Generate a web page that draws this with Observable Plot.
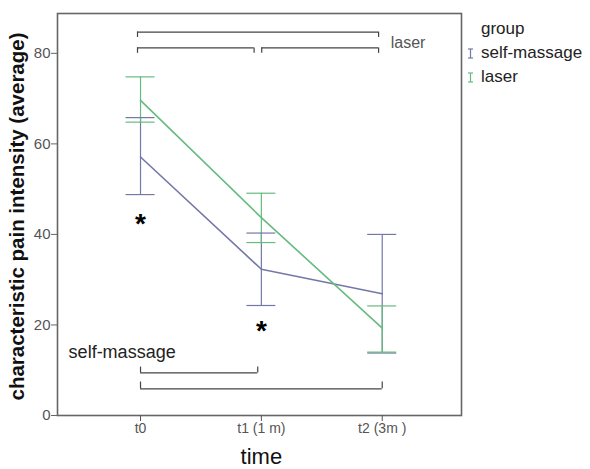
<!DOCTYPE html>
<html>
<head>
<meta charset="utf-8">
<script src="https://cdn.jsdelivr.net/npm/d3@7"></script>
<script src="https://cdn.jsdelivr.net/npm/@observablehq/plot@0.6"></script>
<style>
  html, body { margin: 0; padding: 0; background: #fff; }
  #wrap { position: relative; width: 590px; height: 469px; font-family: "Liberation Sans", Arial, sans-serif; }
  #legend { position: absolute; left: 465px; top: 17px; font-size: 17px; color: #222; line-height: 24px; }
  #legend .row { display: flex; align-items: center; white-space: nowrap; }
  #legend .sym { width: 11px; height: 11px; margin-right: 5px; }
</style>
</head>
<body>
<div id="wrap"></div>
<script>
// ---- data ----
const times = ["t0", "t1 (1 m)", "t2 (3m )"];
const groups = ["self-massage", "laser"];
const colors = ["#7478a6", "#66bb7f"];

const selfMean = [57.1, 32.3, 26.9];
const selfLow  = [48.8, 24.3, 13.8];
const selfHigh = [65.8, 40.3, 40.0];

const laserMean = [69.6, 43.7, 19.3];
const laserLow  = [64.8, 38.2, 14.0];
const laserHigh = [74.8, 49.1, 24.2];

const yTicks = [0, 20, 40, 60, 80];

// significance brackets: [from index, to index, level, leg end level]
const laserBrackets = [
  [-0.025, 1.97, 84.7, 83.5],
  [-0.025, 0.94, 81.2, 80.0],
  [1.003, 1.97, 81.2, 80.0]
];
const massageBrackets = [
  [0.0, 0.97, 9.4, 10.7],
  [0.0, 2.0, 5.9, 7.4]
];
const stars = [[0, 43.8], [1, 20.2]];

// ---- build tables ----
const rows = [];
times.forEach((t, i) => {
  rows.push({i, group: groups[0], mean: selfMean[i], lo: selfLow[i], hi: selfHigh[i]});
  rows.push({i, group: groups[1], mean: laserMean[i], lo: laserLow[i], hi: laserHigh[i]});
});
const caps = rows.flatMap(d => [{i: d.i, group: d.group, v: d.lo}, {i: d.i, group: d.group, v: d.hi}]);
const capHalf = 0.12;

const toBr = (arr) => arr.map(([a, b, y, leg]) => ({a, b, y, leg}));
const brAll = [...toBr(laserBrackets), ...toBr(massageBrackets)];
const legs = brAll.flatMap(d => [{x: d.a, y1: d.y, y2: d.leg}, {x: d.b, y1: d.y, y2: d.leg}]);

const font = "Liberation Sans, Arial, sans-serif";

const chart = Plot.plot({
  width: 590,
  height: 469,
  marginLeft: 57,
  marginRight: 129,
  marginTop: 13,
  marginBottom: 54,
  style: {fontFamily: font, background: "#fff"},
  x: {type: "linear", domain: [-0.687, 2.656]},
  y: {domain: [0, 88.8]},
  color: {domain: groups, range: colors},
  marks: [
    Plot.frame({stroke: "#666", strokeWidth: 1.6}),
    // axes
    Plot.axisY({ticks: yTicks, tickSize: 6, tickPadding: 1, fontSize: 15, color: "#555", label: null, stroke: "#666"}),
    Plot.axisX({ticks: [0, 1, 2], tickFormat: i => times[i], tickSize: 6, tickPadding: 2, fontSize: 14, color: "#555", label: null}),
    Plot.text(["characteristic pain intensity (average)"], {
      frameAnchor: "left", textAnchor: "middle", dx: -40, dy: 2, rotate: -90, fontSize: 20.5, fontWeight: "bold", fill: "#111"
    }),
    Plot.text(["time"], {x: [1], frameAnchor: "bottom", lineAnchor: "bottom", dy: 48, fontSize: 22, fill: "#111"}),
    // brackets
    Plot.ruleY(brAll, {x1: "a", x2: "b", y: "y", stroke: "#444", strokeWidth: 1.2}),
    Plot.ruleX(legs, {x: "x", y1: "y1", y2: "y2", stroke: "#444", strokeWidth: 1.2}),
    Plot.text(["laser"], {x: [2.07], y: [82.3], textAnchor: "start", fontSize: 16, fill: "#555"}),
    Plot.text(["self-massage"], {x: [-0.595], y: [14.0], textAnchor: "start", fontSize: 18, fill: "#222"}),
    // error bars
    Plot.ruleX(rows, {x: "i", y1: "lo", y2: "hi", stroke: "group", strokeWidth: 1.2}),
    Plot.ruleY(caps, {x1: d => d.i - capHalf, x2: d => d.i + capHalf, y: "v", stroke: "group", strokeWidth: 1.2}),
    // mean lines
    Plot.line(rows, {x: "i", y: "mean", z: "group", stroke: "group", strokeWidth: 1.6}),
    // asterisks
    Plot.text(stars, {x: d => d[0], y: d => d[1], text: () => "*", fontSize: 28, fontWeight: "bold", fill: "#000", dy: 7})
  ]
});

const wrap = document.getElementById("wrap");
wrap.appendChild(chart);

const legend = document.createElement("div");
legend.id = "legend";
const sym = (c) => `<svg class="sym" viewBox="0 0 11 11"><line x1="5.5" y1="1" x2="5.5" y2="10" stroke="${c}" stroke-width="1.2"/><line x1="3" y1="1" x2="8" y2="1" stroke="${c}" stroke-width="1.2"/><line x1="3" y1="10" x2="8" y2="10" stroke="${c}" stroke-width="1.2"/></svg>`;
legend.innerHTML = `<div class="row"><span style="width:16px"></span>group</div>` +
  groups.map((g, k) => `<div class="row">${sym(colors[k])}${g}</div>`).join("");
wrap.appendChild(legend);
</script>
</body>
</html>
